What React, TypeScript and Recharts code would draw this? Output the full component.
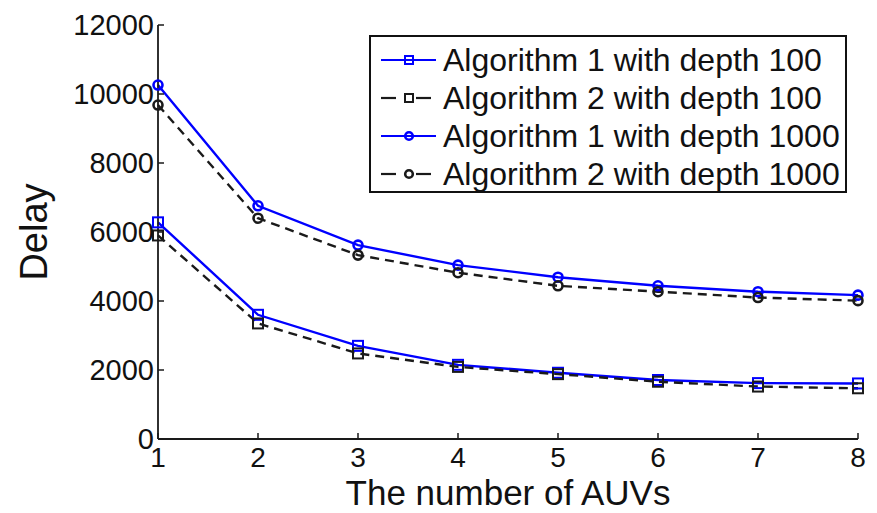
import React from 'react';
import { LineChart, Line, XAxis, YAxis, Legend, Label } from 'recharts';

const auvs = [1, 2, 3, 4, 5, 6, 7, 8];
const alg1Depth100 = [6280, 3600, 2700, 2150, 1920, 1710, 1620, 1610];
const alg2Depth100 = [5900, 3350, 2480, 2090, 1880, 1660, 1520, 1470];
const alg1Depth1000 = [10260, 6760, 5620, 5040, 4690, 4440, 4270, 4170];
const alg2Depth1000 = [9680, 6400, 5330, 4820, 4440, 4270, 4100, 4010];
const yTicks = [0, 2000, 4000, 6000, 8000, 10000, 12000];
const seriesNames = [
  'Algorithm 1 with depth 100',
  'Algorithm 2 with depth 100',
  'Algorithm 1 with depth 1000',
  'Algorithm 2 with depth 1000',
];

const data = auvs.map((n, i) => ({
  n,
  a1d100: alg1Depth100[i],
  a2d100: alg2Depth100[i],
  a1d1000: alg1Depth1000[i],
  a2d1000: alg2Depth1000[i],
}));

const FONT = '"Liberation Sans", Arial, sans-serif';
const BLUE = '#0000ff';
const BLACK = '#1a1a1a';

const SquareDot = (color: string, size = 10) => (props: any) => {
  const { cx, cy, index } = props;
  if (cx == null || cy == null) return null;
  return (
    <rect key={`s-${index}`} x={cx - size / 2} y={cy - size / 2} width={size} height={size}
      fill="none" stroke={color} strokeWidth={2} />
  );
};

const CircleDot = (color: string, r = 4.5) => (props: any) => {
  const { cx, cy, index } = props;
  if (cx == null || cy == null) return null;
  return <circle key={`c-${index}`} cx={cx} cy={cy} r={r} fill="none" stroke={color} strokeWidth={2.6} />;
};

const YTick = (props: any) => {
  const { x, y, payload } = props;
  const ax = x + 4;
  return (
    <g>
      <line x1={ax} x2={ax + 6} y1={y} y2={y} stroke={BLACK} strokeWidth={1.5} />
      <text x={x} y={y} dy="0.36em" textAnchor="end" fontFamily={FONT} fontSize={29} fill="#111">
        {payload.value}
      </text>
    </g>
  );
};

const XTick = (props: any) => {
  const { x, payload } = props;
  return (
    <g>
      <line x1={x} x2={x} y1={439} y2={433} stroke={BLACK} strokeWidth={1.5} />
      <text x={x} y={467} textAnchor="middle" fontFamily={FONT} fontSize={28} fill="#111">
        {payload.value}
      </text>
    </g>
  );
};

const legendItems = [
  { name: seriesNames[0], color: BLUE, dash: false, shape: 'square' },
  { name: seriesNames[1], color: BLACK, dash: true, shape: 'square' },
  { name: seriesNames[2], color: BLUE, dash: false, shape: 'circle' },
  { name: seriesNames[3], color: BLACK, dash: true, shape: 'circle' },
];

const LegendContent = () => (
  <div
    style={{
      width: 478,
      height: 158,
      border: '2px solid #111',
      background: '#fff',
      boxSizing: 'border-box',
      paddingTop: 4,
      fontFamily: FONT,
    }}
  >
    {legendItems.map((it) => (
      <div key={it.name} style={{ display: 'flex', alignItems: 'center', height: 38 }}>
        <svg width={72} height={38} style={{ flex: 'none' }}>
          {it.dash ? (
            <>
              <line x1={10} x2={25} y1={19} y2={19} stroke={it.color} strokeWidth={2.2} />
              <line x1={45} x2={60} y1={19} y2={19} stroke={it.color} strokeWidth={2.2} />
            </>
          ) : (
            <line x1={10} x2={65} y1={19} y2={19} stroke={it.color} strokeWidth={2.2} />
          )}
          {it.shape === 'square' ? (
            <rect x={34} y={15} width={8} height={8} fill="none" stroke={it.color} strokeWidth={2} />
          ) : (
            <circle cx={38} cy={19} r={3.8} fill="none" stroke={it.color} strokeWidth={2.6} />
          )}
        </svg>
        <span style={{ fontSize: 32, color: '#111', whiteSpace: 'nowrap', lineHeight: '38px' }}>{it.name}</span>
      </div>
    ))}
  </div>
);

export default function App() {
  return (
    <div style={{ position: 'absolute', left: 0, top: 0, width: 877, height: 513, background: '#fff' }}>
      <LineChart width={877} height={513} data={data} margin={{ top: 25, right: 19, left: 0, bottom: 0 }}>
        <XAxis
          dataKey="n"
          type="number"
          domain={[1, 8]}
          ticks={auvs}
          height={74}
          tickSize={0}
          tickLine={false}
          axisLine={{ stroke: BLACK, strokeWidth: 1.8 }}
          tick={<XTick />}
          interval={0}
        >
          <Label
            content={() => (
              <text x={508} y={505} textAnchor="middle" fontFamily={FONT} fontSize={35} fill="#111">
                The number of AUVs
              </text>
            )}
          />
        </XAxis>
        <YAxis
          type="number"
          domain={[0, 12000]}
          ticks={yTicks}
          width={158}
          tickSize={0}
          tickMargin={4}
          tickLine={false}
          axisLine={{ stroke: BLACK, strokeWidth: 1.8 }}
          tick={<YTick />}
          interval={0}
        >
          <Label
            content={() => (
              <text x={34} y={232} transform="rotate(-90,34,232)" textAnchor="middle" dominantBaseline="central"
                fontFamily={FONT} fontSize={38} fill="#111">
                Delay
              </text>
            )}
          />
        </YAxis>
        <Legend
          layout="horizontal"
          verticalAlign="middle"
          align="center"
          content={<LegendContent />}
          wrapperStyle={{ position: 'absolute', left: 369, top: 35, width: 480, height: 160 }}
        />
        <Line dataKey="a1d100" name={seriesNames[0]} stroke={BLUE} strokeWidth={2.4}
          dot={SquareDot(BLUE)} isAnimationActive={false} />
        <Line dataKey="a2d100" name={seriesNames[1]} stroke={BLACK} strokeWidth={2.4} strokeDasharray="9 6"
          dot={SquareDot(BLACK)} isAnimationActive={false} />
        <Line dataKey="a1d1000" name={seriesNames[2]} stroke={BLUE} strokeWidth={2.4}
          dot={CircleDot(BLUE)} isAnimationActive={false} />
        <Line dataKey="a2d1000" name={seriesNames[3]} stroke={BLACK} strokeWidth={2.4} strokeDasharray="9 6"
          dot={CircleDot(BLACK)} isAnimationActive={false} />
      </LineChart>
    </div>
  );
}
